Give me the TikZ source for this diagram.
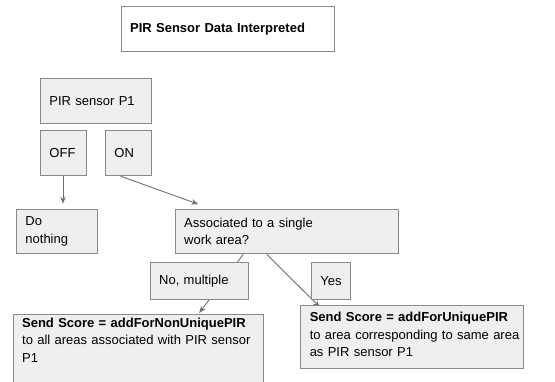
\documentclass[tikz,border=0pt]{standalone}
\usepackage{fontspec}
\setmainfont{Liberation Sans}
\usetikzlibrary{arrows.meta,calc,backgrounds}
\definecolor{boxfill}{HTML}{EFEFEF}
\definecolor{boxline}{HTML}{8A8A8A}
\definecolor{conn}{HTML}{707070}
\tikzset{
  box/.style={draw=boxline, fill=boxfill, line width=0.9pt, anchor=north west,
    inner xsep=9pt, inner ysep=0pt, align=left,
    font=\fontsize{13}{17.5}\selectfont, text=black},
  conn/.style={draw=conn, line width=0.9pt, -{Stealth[length=7pt,width=5.5pt]}},
}
\begin{document}
\begin{tikzpicture}[x=1pt,y=-1pt]
\useasboundingbox (0,0) rectangle (555,381);
\clip (0,0) rectangle (555,381);
\node[box, fill=white, text width=195pt, minimum height=45.3pt] (title) at (120.7,6) {\textbf{PIR Sensor Data Interpreted}};
\node[box, text width=93.3pt, minimum height=45.6pt] (pir) at (40,77.7) {PIR sensor P1};
\node[box, text width=28pt, minimum height=45pt] (off) at (40,130.3) {OFF};
\node[box, text width=28.3pt, minimum height=45pt] (on) at (105,130.3) {ON};
\node[box, text width=62.7pt, minimum height=44.6pt] (nothing) at (16,208.7) {Do\\nothing};
\node[box, text width=205.3pt, minimum height=44.6pt] (assoc) at (174.7,208.7) {Associated to a single\\work area?};
\node[box, text width=80pt, minimum height=37pt] (multi) at (149.7,262.3) {No, multiple};
\node[box, text width=21pt, minimum height=37pt] (yes) at (311,262.3) {Yes};
\node[box, text width=232pt, text height=13pt, text depth=90pt] (send1) at (12.7,314) {\textbf{Send Score = addForNonUniquePIR}\\\mbox{to all areas associated with PIR sensor}\\P1};
\node[box, text width=204.4pt, text height=16pt, text depth=47pt] (send2) at (300.3,305.3) {\textbf{Send Score = addForUniquePIR}\\\mbox{to area corresponding to same area}\\as PIR sensor P1};
\begin{scope}[on background layer]
\coordinate (offs) at ($(off.south west)+(23,0)$);
\coordinate (offe) at ($(offs |- nothing.north)+(0,-5)$);
\draw[conn] (offs) -- (offe);
\coordinate (ons) at ($(on.south west)+(15.7,0)$);
\coordinate (one) at ($(assoc.north west)+(23.6,-4.5)$);
\draw[conn] (ons) -- (one);
\coordinate (as1) at ($(assoc.south west)+(68.6,0)$);
\coordinate (s1e) at ($(send1.north west)+(186.5,-1)$);
\draw[conn] (as1) -- (s1e);
\coordinate (as2) at ($(assoc.south west)+(92,0)$);
\coordinate (s2e) at ($(send2.north west)+(19.7,2)$);
\draw[conn] (as2) -- (s2e);
\end{scope}
\end{tikzpicture}
\end{document}
